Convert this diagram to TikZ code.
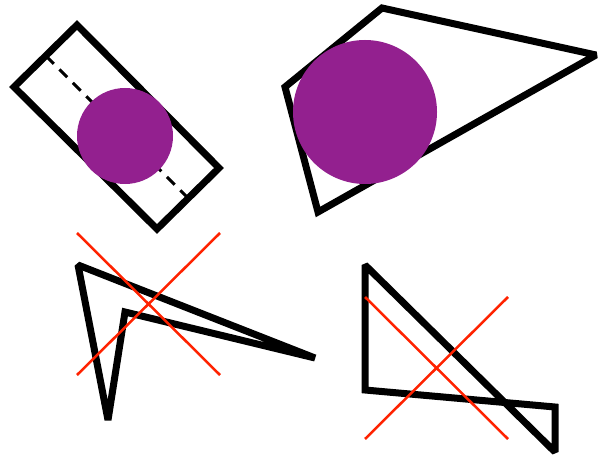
\documentclass[tikz,border=0pt]{standalone}
\definecolor{blobpurple}{RGB}{147,32,143}
\definecolor{crossred}{RGB}{255,34,0}
\tikzset{
  outline/.style={draw=black, line width=7pt, miter limit=1.8},
  blob/.style={fill=blobpurple, draw=none},
  crossline/.style={draw=crossred, line width=2.5pt},
  midline/.style={draw=black, line width=3pt, dash pattern=on 11pt off 8pt}
}
\begin{document}
\begin{tikzpicture}[x=1pt, y=-1pt]
\useasboundingbox (0,0) rectangle (599,457);
% shape 1: rotated rectangle
\draw[outline] (77,25) -- (219,168) -- (157,229) -- (14,87) -- cycle;
\draw[midline] (46,56) -- (188,198);
\fill[blob] (125,136) circle (48);
% shape 2: quadrilateral
\draw[outline] (382,8) -- (596,55) -- (318,212) -- (285,87) -- cycle;
\fill[blob] (365,112) circle (72);
% shape 3: self-intersecting polygon
\draw[outline] (78,265) -- (315,358) -- (125,312) -- (108,420) -- cycle;
\draw[crossline] (77,233) -- (220,375);
\draw[crossline] (220,233) -- (77,375);
% shape 4: self-intersecting polygon
\draw[outline] (365,265) -- (365,390) -- (555,407) -- (555,452) -- cycle;
\draw[crossline] (365,297) -- (508,439);
\draw[crossline] (508,297) -- (365,439);
\end{tikzpicture}
\end{document}
